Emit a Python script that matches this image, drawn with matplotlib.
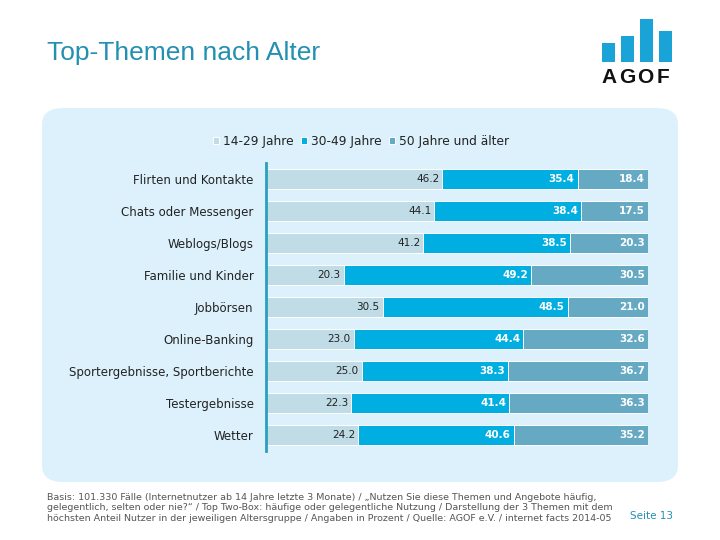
import matplotlib.pyplot as plt
from matplotlib.patches import FancyBboxPatch, Rectangle

categories = [
    "Flirten und Kontakte",
    "Chats oder Messenger",
    "Weblogs/Blogs",
    "Familie und Kinder",
    "Jobbörsen",
    "Online-Banking",
    "Sportergebnisse, Sportberichte",
    "Testergebnisse",
    "Wetter",
]
age_14_29 = [46.2, 44.1, 41.2, 20.3, 30.5, 23.0, 25.0, 22.3, 24.2]
age_30_49 = [35.4, 38.4, 38.5, 49.2, 48.5, 44.4, 38.3, 41.4, 40.6]
age_50_plus = [18.4, 17.5, 20.3, 30.5, 21.0, 32.6, 36.7, 36.3, 35.2]
series_names = ["14-29 Jahre", "30-49 Jahre", "50 Jahre und älter"]
colors = ["#c0dce6", "#00aee1", "#66a9c3"]

plt.rcParams["font.family"] = ["DejaVu Sans"]

fig = plt.figure(figsize=(7.2, 5.4), dpi=100)
W, H = 720, 540

def fx(px):
    return px / W

def fy(py):
    return 1 - py / H

# light blue panel behind the chart
panel = FancyBboxPatch((fx(42), fy(482)), fx(678) - fx(42), fy(108) - fy(482),
                       boxstyle="round,pad=0,rounding_size=0.03",
                       transform=fig.transFigure, facecolor="#ddf1fc",
                       edgecolor="none", zorder=-5)
fig.patches.append(panel)

# title
fig.text(fx(47), fy(53), "Top-Themen nach Alter", fontsize=19, color="#2390b2",
         va="center", ha="left", family="Liberation Sans")

# AGOF logo
logo = [(602, 43), (621, 36), (640, 19), (659, 31)]
for lx, top in logo:
    fig.patches.append(Rectangle((fx(lx), fy(62)), fx(13), fy(top) - fy(62),
                                 transform=fig.transFigure, facecolor="#1aa3d6",
                                 edgecolor="none"))
for k, ch in enumerate("AGOF"):
    fig.text(fx(609 + k * 18), fy(78), ch, fontsize=15, fontweight="bold",
             color="#111111", ha="center", va="center", family="Liberation Sans")

ax = fig.add_axes([fx(266), fy(451), fx(648) - fx(266), fy(163) - fy(451)])
ax.set_facecolor("none")

y = list(range(len(categories)))
left = [0] * len(categories)
series = [age_14_29, age_30_49, age_50_plus]
for i, vals in enumerate(series):
    ax.barh(y, vals, left=left, height=0.6, color=colors[i], edgecolor="white",
            linewidth=0.7, label=series_names[i])
    for j, v in enumerate(vals):
        xe = left[j] + v - 0.8
        if i == 0:
            ax.text(xe, j, f"{v:.1f}", ha="right", va="center", fontsize=7.5,
                    color="#222222")
        else:
            ax.text(xe, j, f"{v:.1f}", ha="right", va="center", fontsize=7.5,
                    color="white", fontweight="bold")
    left = [l + v for l, v in zip(left, vals)]

ax.set_xlim(0, 100)
ax.set_ylim(len(categories) - 0.5, -0.5)
ax.set_yticks(y)
ax.set_yticklabels(categories, fontsize=8.5, color="#222222")
ax.set_xticks([])
ax.tick_params(axis="y", length=0, pad=9)
for s in ["top", "right", "bottom"]:
    ax.spines[s].set_visible(False)
ax.spines["left"].set_color("#2a9fc0")
ax.spines["left"].set_linewidth(2)

leg = fig.legend(loc="center", bbox_to_anchor=(fx(361), fy(141)), ncol=3,
                 frameon=False, fontsize=8.8, handlelength=0.5, handleheight=0.5,
                 handletextpad=0.3, columnspacing=0.6)
for t in leg.get_texts():
    t.set_color("#222222")

foot = ("Basis: 101.330 Fälle (Internetnutzer ab 14 Jahre letzte 3 Monate) / „Nutzen Sie diese Themen und Angebote häufig,\n"
        "gelegentlich, selten oder nie?“ / Top Two-Box: häufige oder gelegentliche Nutzung / Darstellung der 3 Themen mit dem\n"
        "höchsten Anteil Nutzer in der jeweiligen Altersgruppe / Angaben in Prozent / Quelle: AGOF e.V. / internet facts 2014-05")
fig.text(fx(47), fy(508), foot, fontsize=6.8, color="#555555", ha="left", va="center",
         linespacing=1.15)
fig.text(fx(651), fy(516), "Seite 13", fontsize=7.5, color="#2390b2", ha="center",
         va="center")

fig.savefig("out.png", dpi=100)
